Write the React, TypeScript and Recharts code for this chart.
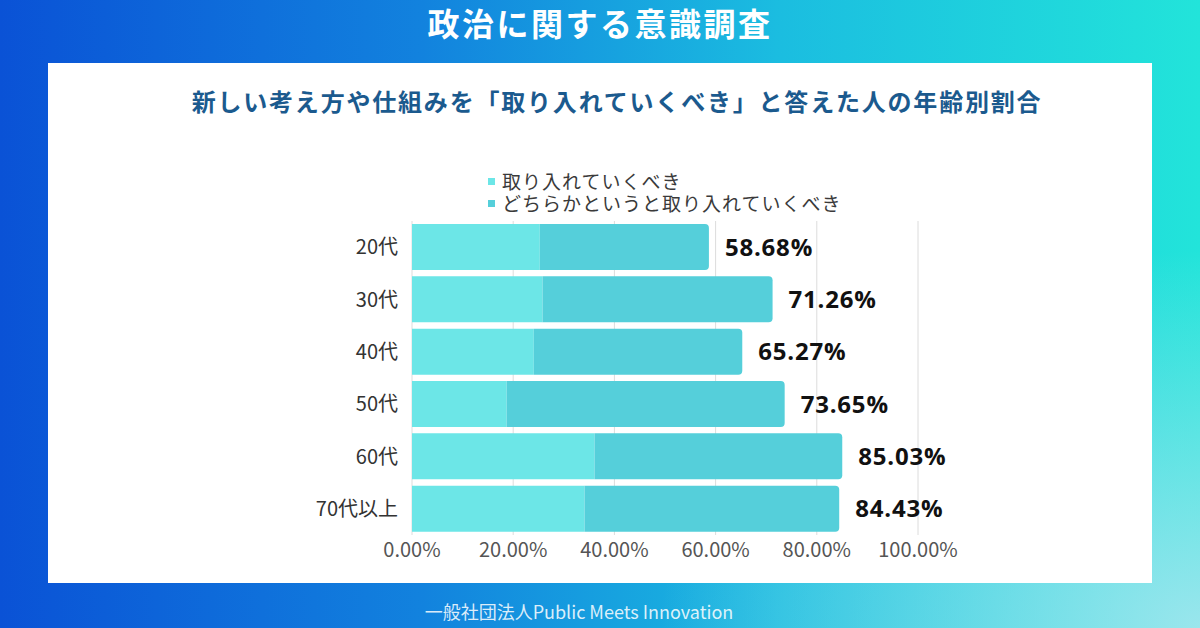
import React from 'react';
import { BarChart, Bar, XAxis, YAxis, CartesianGrid, Legend, LabelList } from 'recharts';

const ages = ['20代', '30代', '40代', '50代', '60代', '70代以上'];
const totals = [58.68, 71.26, 65.27, 73.65, 85.03, 84.43];
const definitely = [25.25, 25.8, 24.07, 18.7, 36.07, 34.1];
const xTicks = [0, 20, 40, 60, 80, 100];

const seriesNames = ['取り入れていくべき', 'どちらかというと取り入れていくべき'];
const colors = ['#6ce6e7', '#55cfda'];

const data = ages.map((age, i) => ({
  age,
  a: definitely[i],
  b: +(totals[i] - definitely[i]).toFixed(2),
  total: totals[i],
}));

const FONT = '"Noto Sans CJK JP", "Noto Sans", sans-serif';

const LegendContent = (props: any) => {
  const payload = [...(props.payload || [])].sort(
    (p: any, q: any) => seriesNames.indexOf(p.value) - seriesNames.indexOf(q.value)
  );
  return (
    <div style={{ fontFamily: FONT, fontSize: 19, color: '#3a3a3a', lineHeight: '22px', letterSpacing: 1 }}>
      {payload.map((p: any, i: number) => (
        <div key={i} style={{ display: 'flex', alignItems: 'center', whiteSpace: 'nowrap', height: 22 }}>
          <span style={{ display: 'inline-block', width: 7, height: 7, background: p.color, marginRight: 7 }} />
          <span>{p.value}</span>
        </div>
      ))}
    </div>
  );
};

export default function App() {
  return (
    <div
      style={{
        position: 'fixed',
        left: 0,
        top: 0,
        width: 1200,
        height: 628,
        overflow: 'hidden',
        background:
          'radial-gradient(ellipse 45% 60% at 100% 100%, rgba(175,230,240,0.85) 0%, rgba(175,230,240,0) 100%), linear-gradient(to right, #0a52d6 0%, #1282de 35%, #1bbde0 65%, #22e4da 100%)',
        fontFamily: FONT,
      }}
    >
      <div
        style={{
          position: 'absolute',
          left: 0,
          top: 4,
          width: 1200,
          textAlign: 'center',
          color: '#ffffff',
          fontSize: 32,
          fontWeight: 700,
          letterSpacing: 2.5,
          lineHeight: '36px',
        }}
      >
        政治に関する意識調査
      </div>
      <div
        style={{
          position: 'absolute',
          left: 48,
          top: 63,
          width: 1104,
          height: 520,
          background: '#ffffff',
        }}
      />
      <div
        style={{
          position: 'absolute',
          left: 17,
          top: 85,
          width: 1200,
          textAlign: 'center',
          color: '#1b5a8e',
          fontSize: 24,
          fontWeight: 700,
          letterSpacing: 1.8,
          lineHeight: '32px',
        }}
      >
        新しい考え方や仕組みを「取り入れていくべき」と答えた人の年齢別割合
      </div>
      <div style={{ position: 'absolute', left: 0, top: 0 }}>
        <BarChart
          width={1200}
          height={628}
          data={data}
          layout="vertical"
          barSize={46}
          margin={{ top: 221, right: 282, bottom: 63, left: 312 }}
        >
          <CartesianGrid horizontal={false} vertical={true} stroke="#dcdcdc" />
          <XAxis
            type="number"
            domain={[0, 100]}
            ticks={xTicks}
            tickFormatter={(v: number) => v.toFixed(2) + '%'}
            axisLine={false}
            tickLine={false}
            tick={{ fill: '#555555', fontSize: 20, fontFamily: FONT }}
            height={30}
            interval={0}
          />
          <YAxis
            type="category"
            dataKey="age"
            axisLine={false}
            tickLine={false}
            width={100}
            tickMargin={8}
            tick={{ fill: '#333333', fontSize: 20, fontFamily: FONT }}
          />
          <Legend
            layout="vertical"
            align="center"
            verticalAlign="middle"
            content={<LegendContent />}
            wrapperStyle={{ top: 170, left: 488, width: 400 }}
          />
          <Bar dataKey="a" name={seriesNames[0]} stackId="s" fill={colors[0]} isAnimationActive={false} />
          <Bar
            dataKey="b"
            name={seriesNames[1]}
            stackId="s"
            fill={colors[1]}
            radius={[0, 4, 4, 0]}
            isAnimationActive={false}
          >
            <LabelList
              dataKey="total"
              position="right"
              offset={16}
              formatter={(v: any) => Number(v).toFixed(2) + '%'}
              style={{
                fill: '#111111',
                fontSize: 24,
                fontWeight: 700,
                letterSpacing: 0.8,
                fontFamily: '"Open Sans", "Noto Sans", sans-serif',
              }}
            />
          </Bar>
        </BarChart>
      </div>
      <div
        style={{
          position: 'absolute',
          left: 0,
          top: 599,
          width: 1158,
          textAlign: 'center',
          color: 'rgba(255,255,255,0.85)',
          fontSize: 18,
          lineHeight: '24px',
        }}
      >
        一般社団法人Public Meets Innovation
      </div>
    </div>
  );
}
